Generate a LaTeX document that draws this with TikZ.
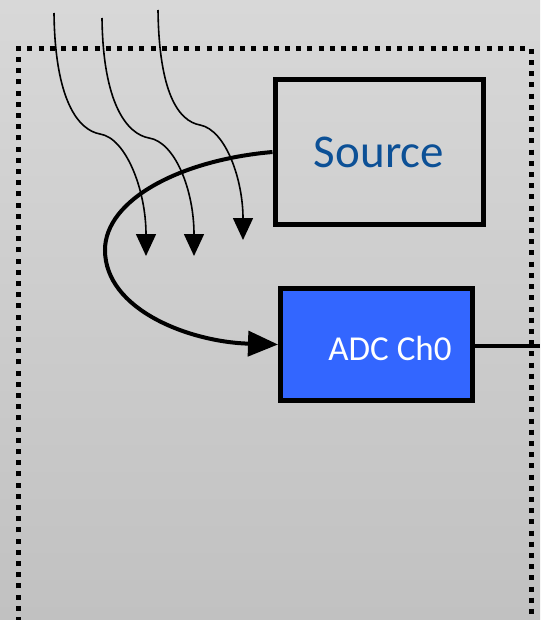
\documentclass[tikz,border=0pt]{standalone}
\usepackage{fontspec}
\setmainfont{Carlito}
\usetikzlibrary{arrows.meta}
\definecolor{bgtop}{RGB}{216,216,216}
\definecolor{bgbottom}{RGB}{193,193,193}
\definecolor{srctext}{RGB}{12,80,150}
\definecolor{adcblue}{RGB}{51,102,255}
\tikzset{
  block/.style={draw=black, line width=5pt, rectangle, inner sep=0pt},
  srcbox/.style={block, minimum width=208pt, minimum height=144pt,
    text=srctext, font=\fontsize{47}{50}\selectfont},
  adcbox/.style={block, fill=adcblue, minimum width=192pt, minimum height=112pt},
  adctext/.style={text=white, inner sep=0pt, font=\fontsize{35}{38}\selectfont},
  frame/.style={line width=5pt, dash pattern=on 5pt off 6.2pt},
  signal/.style={line width=4pt, -{Triangle[length=30pt,width=25pt]}},
  noise/.style={line width=1.6pt, -{Triangle[length=22pt,width=20pt]}},
  outline/.style={line width=3.8pt}
}
\begin{document}
\begin{tikzpicture}[x=1pt, y=-1pt]
  % page background with a soft vertical gradient
  \useasboundingbox (0,0) rectangle (540,620);
  \shade[top color=bgtop, bottom color=bgbottom] (0,0) rectangle (540,620);

  % dotted enclosure
  \draw[frame] (18.5,622) -- (18.5,48.5) -- (531,48.5) -- (531,622);

  % blocks
  \node[srcbox] (src) at (379,152) {Source};
  \node[adcbox] (adc) at (376.5,344.5) {};
  \node[adctext] (adclabel) at (390,348) {ADC Ch0};

  % output line leaving the converter
  \coordinate (out) at (540,346);
  \draw[outline] (adc.east |- out) -- (out);

  % signal path from the source into the converter
  \draw[signal] (src.west)
    .. controls (180,160) and (105,200) .. (105,250)
    .. controls (105,310) and (190,342) .. (adc.west);

  % interference coupling in from above
  \coordinate (n1s) at (54,13);   \coordinate (n1m) at (100,134); \coordinate (n1e) at (146,256);
  \coordinate (n2s) at (102,18);  \coordinate (n2m) at (149,138); \coordinate (n2e) at (194,256);
  \coordinate (n3s) at (158,10);  \coordinate (n3m) at (200,125); \coordinate (n3e) at (243,240);
  \draw[noise] (n1s) .. controls (55,100) and (78,130) .. (n1m)
    .. controls (126,138) and (146,190) .. (n1e);
  \draw[noise] (n2s) .. controls (103,104) and (127,134) .. (n2m)
    .. controls (175,142) and (194,190) .. (n2e);
  \draw[noise] (n3s) .. controls (159,92) and (178,121) .. (n3m)
    .. controls (226,130) and (243,180) .. (n3e);
\end{tikzpicture}
\end{document}
